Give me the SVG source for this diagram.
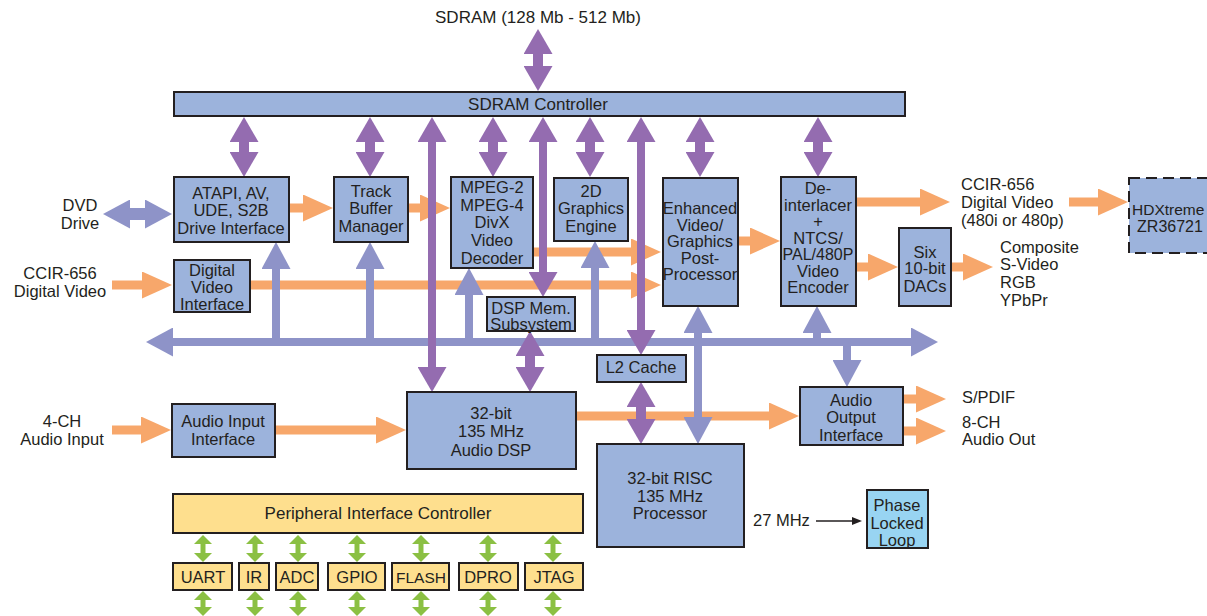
<svg xmlns="http://www.w3.org/2000/svg" width="1207" height="616" viewBox="0 0 1207 616">
<style>
text{font-family:"Liberation Sans",Arial,sans-serif;font-size:16.5px;fill:#231f20;text-anchor:middle}
.l{text-anchor:start}
.big{font-size:17px}
.box{fill:#9cb3dc;stroke:#231f20;stroke-width:2}
.yel{fill:#fedf8e;stroke:#231f20;stroke-width:2}
.pll{fill:#98d4f2;stroke:#231f20;stroke-width:2}
.dash{fill:#9cb3dc;stroke:#231f20;stroke-width:2;stroke-dasharray:11 6}
.or{stroke:#f7a76b;stroke-width:9;fill:none;marker-end:url(#ao)}
.pu{stroke:#946cb0;stroke-width:8;fill:none;marker-start:url(#ap);marker-end:url(#ap)}
.pus{stroke:#946cb0;stroke-width:10;fill:none;marker-start:url(#ap);marker-end:url(#ap)}
.lv{stroke:#8e93c8;stroke-width:8;fill:none;marker-end:url(#al)}
.lv2{stroke:#8e93c8;stroke-width:8;fill:none;marker-start:url(#al);marker-end:url(#al)}
.gr{stroke:#8bc043;stroke-width:5;fill:none;marker-start:url(#ag);marker-end:url(#ag)}
</style>
<defs>
<marker id="ao" markerUnits="userSpaceOnUse" markerWidth="30" markerHeight="27" viewBox="0 0 30 27" refX="0" refY="13.5" orient="auto-start-reverse"><path d="M0,0 L30,13.5 L0,27z" fill="#f7a76b"/></marker>
<marker id="ap" markerUnits="userSpaceOnUse" markerWidth="25" markerHeight="29" viewBox="0 0 25 29" refX="0" refY="14.5" orient="auto-start-reverse"><path d="M0,0 L25,14.5 L0,29z" fill="#946cb0"/></marker>
<marker id="al" markerUnits="userSpaceOnUse" markerWidth="27" markerHeight="29" viewBox="0 0 27 29" refX="0" refY="14.5" orient="auto-start-reverse"><path d="M0,0 L27,14.5 L0,29z" fill="#8e93c8"/></marker>
<marker id="ag" markerUnits="userSpaceOnUse" markerWidth="9" markerHeight="18" viewBox="0 0 9 18" refX="0" refY="9" orient="auto-start-reverse"><path d="M0,0 L9,9 L0,18z" fill="#8bc043"/></marker>
<marker id="ak" markerUnits="userSpaceOnUse" markerWidth="10" markerHeight="8" viewBox="0 0 10 8" refX="0" refY="4" orient="auto"><path d="M0,0 L10,4 L0,8z" fill="#231f20"/></marker>
</defs>

<g id="connectors">
<line class="or" x1="289" y1="208" x2="303" y2="208"/>
<line class="or" x1="408" y1="208" x2="420" y2="208"/>
<line class="or" x1="112" y1="285" x2="142" y2="285"/>
<line class="or" x1="250" y1="285" x2="631" y2="285"/>
<line class="or" x1="533" y1="252" x2="631" y2="252"/>
<line class="or" x1="738" y1="241" x2="750" y2="241"/>
<line class="or" x1="856" y1="202" x2="920" y2="202"/>
<line class="or" x1="1069" y1="202" x2="1098" y2="202"/>
<line class="or" x1="856" y1="267" x2="868" y2="267"/>
<line class="or" x1="951" y1="267" x2="963" y2="267"/>
<line class="or" x1="112" y1="430" x2="141" y2="430"/>
<line class="or" x1="275" y1="430" x2="376" y2="430"/>
<line class="or" x1="576" y1="416" x2="769" y2="416"/>
<line class="or" x1="903" y1="399" x2="916" y2="399"/>
<line class="or" x1="903" y1="431" x2="916" y2="431"/>
<line class="lv2" x1="173" y1="342" x2="911" y2="342"/>
<line class="lv2" x1="130" y1="214" x2="145" y2="214" style="stroke-width:12"/>
<line class="lv" x1="276" y1="342" x2="276" y2="269"/>
<line class="lv" x1="370" y1="342" x2="370" y2="269"/>
<line class="lv" x1="469" y1="342" x2="469" y2="295"/>
<line class="lv" x1="595" y1="342" x2="595" y2="268"/>
<line class="lv" x1="817" y1="342" x2="817" y2="333"/>
<line class="lv2" x1="698" y1="417" x2="698" y2="333"/>
<line class="lv" x1="847" y1="342" x2="847" y2="360"/>
<line class="pus" x1="538" y1="54" x2="538" y2="66"/>
<line class="pus" x1="244" y1="142" x2="244" y2="152"/>
<line class="pus" x1="370" y1="142" x2="370" y2="152"/>
<line class="pus" x1="493" y1="142" x2="493" y2="152"/>
<line class="pus" x1="590" y1="142" x2="590" y2="152"/>
<line class="pus" x1="700" y1="142" x2="700" y2="152"/>
<line class="pus" x1="818" y1="142" x2="818" y2="152"/>
<line class="pu" x1="432" y1="142" x2="432" y2="367"/>
<line class="pu" x1="543" y1="142" x2="543" y2="272"/>
<line class="pu" x1="641" y1="142" x2="641" y2="330"/>
<line class="pus" x1="530" y1="356" x2="530" y2="367"/>
<line class="pus" x1="641" y1="407" x2="641" y2="419"/>
<line class="gr" x1="203" y1="544" x2="203" y2="553"/>
<line class="gr" x1="255" y1="544" x2="255" y2="553"/>
<line class="gr" x1="298" y1="544" x2="298" y2="553"/>
<line class="gr" x1="357" y1="544" x2="357" y2="553"/>
<line class="gr" x1="421" y1="544" x2="421" y2="553"/>
<line class="gr" x1="488" y1="544" x2="488" y2="553"/>
<line class="gr" x1="553" y1="544" x2="553" y2="553"/>
<line class="gr" x1="203" y1="600" x2="203" y2="607"/>
<line class="gr" x1="255" y1="600" x2="255" y2="607"/>
<line class="gr" x1="298" y1="600" x2="298" y2="607"/>
<line class="gr" x1="357" y1="600" x2="357" y2="607"/>
<line class="gr" x1="421" y1="600" x2="421" y2="607"/>
<line class="gr" x1="488" y1="600" x2="488" y2="607"/>
<line class="gr" x1="553" y1="600" x2="553" y2="607"/>
<line x1="816" y1="521" x2="852" y2="521" stroke="#231f20" stroke-width="1.6" marker-end="url(#ak)"/>
</g>

<g id="labels">
<text class="big" x="538" y="23">SDRAM (128 Mb - 512 Mb)</text>
<text x="80" y="211">DVD</text><text x="80" y="229">Drive</text>
<text x="60" y="279">CCIR-656</text><text x="60" y="297">Digital Video</text>
<text x="62" y="427">4-CH</text><text x="62" y="445">Audio Input</text>
<text class="l" x="961" y="190">CCIR-656</text><text class="l" x="961" y="208">Digital Video</text><text class="l" x="961" y="226">(480i or 480p)</text>
<text class="l" x="1000" y="253">Composite</text><text class="l" x="1000" y="270">S-Video</text><text class="l" x="1000" y="288">RGB</text><text class="l" x="1000" y="306">YPbPr</text>
<text class="l" x="962" y="403">S/PDIF</text><text class="l" x="962" y="428">8-CH</text><text class="l" x="962" y="445">Audio Out</text>
<text class="l" x="753" y="526">27 MHz</text>
</g>

<g id="sdram-controller"><rect class="box" x="174" y="92" width="731" height="24"/><text class="big" x="538" y="110">SDRAM Controller</text></g>
<g id="atapi"><rect class="box" x="174" y="177" width="115" height="65"/><text x="231" y="199">ATAPI, AV,</text><text x="231" y="216">UDE, S2B</text><text x="231" y="234">Drive Interface</text></g>
<g id="track-buffer"><rect class="box" x="334" y="177" width="74" height="65"/><text x="371" y="197">Track</text><text x="371" y="214">Buffer</text><text x="371" y="232">Manager</text></g>
<g id="digital-video-interface"><rect class="box" x="174" y="260" width="76" height="52"/><text x="212" y="276">Digital</text><text x="212" y="293">Video</text><text x="212" y="310">Interface</text></g>
<g id="video-decoder"><rect class="box" x="451" y="177" width="82" height="91"/><text x="492" y="193">MPEG-2</text><text x="492" y="211">MPEG-4</text><text x="492" y="228">DivX</text><text x="492" y="246">Video</text><text x="492" y="264">Decoder</text></g>
<g id="graphics-engine"><rect class="box" x="554" y="178" width="74" height="63"/><text x="591" y="197">2D</text><text x="591" y="214">Graphics</text><text x="591" y="232">Engine</text></g>
<g id="post-processor"><rect class="box" x="663" y="178" width="75" height="128"/><text x="700" y="214">Enhanced</text><text x="700" y="231">Video/</text><text x="700" y="247">Graphics</text><text x="700" y="264">Post-</text><text x="700" y="280">Processor</text></g>
<g id="video-encoder"><rect class="box" x="781" y="177" width="75" height="129"/><text x="818" y="194">De-</text><text x="818" y="211">interlacer</text><text x="818" y="227">+</text><text x="818" y="244">NTCS/</text><text x="818" y="260" style="font-size:16px">PAL/480P</text><text x="818" y="277">Video</text><text x="818" y="293">Encoder</text></g>
<g id="dacs"><rect class="box" x="899" y="228" width="52" height="78"/><text x="925" y="258">Six</text><text x="925" y="274">10-bit</text><text x="925" y="292">DACs</text></g>
<g id="hdxtreme"><rect class="dash" x="1129" y="178" width="90" height="75"/><text class="l" x="1132" y="215" style="font-size:15.5px">HDXtreme</text><text x="1170" y="232" style="font-size:16px">ZR36721</text></g>
<g id="dsp-mem"><rect class="box" x="487" y="297" width="88" height="34"/><text x="531" y="314">DSP Mem.</text><text x="531" y="330">Subsystem</text></g>
<g id="l2-cache"><rect class="box" x="597" y="355" width="89" height="27"/><text x="641" y="373">L2 Cache</text></g>
<g id="audio-input"><rect class="box" x="172" y="404" width="103" height="53"/><text x="223" y="427">Audio Input</text><text x="223" y="445">Interface</text></g>
<g id="audio-dsp"><rect class="box" x="407" y="392" width="169" height="77"/><text x="491" y="419">32-bit</text><text x="491" y="437">135 MHz</text><text x="491" y="456">Audio DSP</text></g>
<g id="risc"><rect class="box" x="597" y="444" width="147" height="103"/><text x="670" y="484">32-bit RISC</text><text x="670" y="502">135 MHz</text><text x="670" y="519">Processor</text></g>
<g id="audio-output"><rect class="box" x="800" y="387" width="103" height="58"/><text x="851" y="406">Audio</text><text x="851" y="423">Output</text><text x="851" y="441">Interface</text></g>
<g id="pll"><rect class="pll" x="867" y="490" width="61" height="58"/><text x="897" y="511">Phase</text><text x="897" y="529">Locked</text><text x="897" y="546">Loop</text></g>
<g id="peripheral-controller"><rect class="yel" x="173" y="494" width="410" height="39"/><text class="big" x="378" y="519">Peripheral Interface Controller</text></g>
<g id="uart"><rect class="yel" x="173" y="563" width="59" height="27"/><text x="203" y="583">UART</text></g>
<g id="ir"><rect class="yel" x="239" y="563" width="30" height="27"/><text x="254" y="583">IR</text></g>
<g id="adc"><rect class="yel" x="276" y="563" width="42" height="27"/><text x="297" y="583">ADC</text></g>
<g id="gpio"><rect class="yel" x="328" y="563" width="57" height="27"/><text x="357" y="583">GPIO</text></g>
<g id="flash"><rect class="yel" x="392" y="563" width="57" height="27"/><text x="421" y="583" style="font-size:15.5px">FLASH</text></g>
<g id="dpro"><rect class="yel" x="459" y="563" width="59" height="27"/><text x="488" y="583">DPRO</text></g>
<g id="jtag"><rect class="yel" x="525" y="563" width="58" height="27"/><text x="554" y="583">JTAG</text></g>
</svg>
